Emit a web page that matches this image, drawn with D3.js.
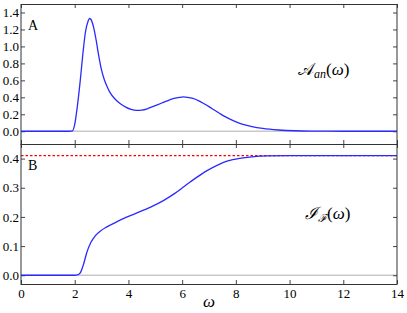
<!DOCTYPE html>
<html>
<head>
<meta charset="utf-8">
<script src="https://cdn.jsdelivr.net/npm/d3@7"></script>
<style>
  body { margin: 0; background: #fff; }
  svg { display: block; }
</style>
</head>
<body>
<svg class="chart" width="407" height="313"></svg>
<script>
// omega grid + spectral function A_an(omega)
const omegaA = [0, 1.8, 1.92, 2.0, 2.1, 2.2, 2.3, 2.4, 2.5, 2.55, 2.6, 2.7, 2.8, 2.9, 3.0, 3.1, 3.2, 3.3, 3.5, 3.7, 3.9, 4.1, 4.3, 4.5, 4.7, 4.9, 5.1, 5.3, 5.5, 5.7, 5.9, 6.05, 6.2, 6.4, 6.6, 6.8, 7.0, 7.2, 7.4, 7.6, 7.9, 8.2, 8.6, 9.0, 9.6, 10.2, 11, 12, 14];
const valA   = [0, 0, 0.005, 0.08, 0.3, 0.58, 0.9, 1.17, 1.3, 1.33, 1.32, 1.23, 1.07, 0.88, 0.72, 0.61, 0.53, 0.465, 0.38, 0.325, 0.285, 0.258, 0.247, 0.25, 0.265, 0.29, 0.315, 0.34, 0.365, 0.387, 0.4, 0.405, 0.4, 0.387, 0.362, 0.328, 0.29, 0.25, 0.21, 0.172, 0.125, 0.088, 0.055, 0.033, 0.015, 0.006, 0.002, 0, 0];

// integrated quantity I_F(omega)
const omegaI = [0, 2.0, 2.1, 2.2, 2.32, 2.45, 2.6, 2.78, 2.96, 3.2, 3.56, 3.93, 4.43, 4.9, 5.3, 5.7, 6.1, 6.5, 6.91, 7.3, 7.7, 8.15, 8.6, 9.2, 10, 11, 14];
const valI   = [0, 0, 0.001, 0.007, 0.035, 0.078, 0.112, 0.137, 0.152, 0.166, 0.183, 0.199, 0.218, 0.237, 0.256, 0.279, 0.306, 0.333, 0.358, 0.377, 0.392, 0.401, 0.406, 0.409, 0.41, 0.41, 0.41];
const limitI = 0.41;

const xTicks = [0, 2, 4, 6, 8, 10, 12, 14];
const yTicksA = [0, 0.2, 0.4, 0.6, 0.8, 1.0, 1.2, 1.4];
const yTicksI = [0, 0.1, 0.2, 0.3, 0.4];

const svg = d3.select('.chart');
const LEFT = 21, RIGHT = 397;
const TOP_A = 4, BOT_A = 144, TOP_I = 144, BOT_I = 284;
const FONT = 'Liberation Serif';

let x = d3.scaleLinear().domain([0, 14]).range([LEFT, RIGHT]);
let yA = d3.scaleLinear().domain([-0.15, 1.5]).range([BOT_A, TOP_A]);
let yI = d3.scaleLinear().domain([-0.03, 0.45]).range([BOT_I, TOP_I]);

function styleAxis(g) {
    g.select('.domain').remove();
    g.attr('font-family', FONT).attr('font-size', 13);
    g.selectAll('.tick line').attr('stroke', '#444');
    g.selectAll('.tick text').attr('fill', '#000').attr('font-family', FONT);
}

function panel(y, top, bot, yTicks, showX) {
    // zero line
    svg.append('line')
        .attr('x1', LEFT).attr('x2', RIGHT)
        .attr('y1', y(0)).attr('y2', y(0))
        .attr('stroke', '#c8c8c8').attr('stroke-width', 1.5);

    svg.append('g')
        .attr('transform', `translate(${LEFT},0)`)
        .call(d3.axisLeft(y).tickValues(yTicks).tickSize(-4).tickPadding(2).tickFormat(d3.format('.1f')))
        .call(styleAxis);
    svg.append('g')
        .attr('transform', `translate(${RIGHT},0)`)
        .call(d3.axisRight(y).tickValues(yTicks).tickSize(-4).tickFormat(''))
        .call(styleAxis);
    svg.append('g')
        .attr('transform', `translate(0,${top})`)
        .call(d3.axisTop(x).tickValues(xTicks).tickSize(-4).tickFormat(''))
        .call(styleAxis);
    let bottom = svg.append('g')
        .attr('transform', `translate(0,${bot})`)
        .call(d3.axisBottom(x).tickValues(xTicks).tickSize(-4).tickPadding(4)
            .tickFormat(showX ? d3.format('d') : ''))
        .call(styleAxis);
    bottom.selectAll('text').attr('dy', '0.8em');
}

panel(yA, TOP_A, BOT_A, yTicksA, false);
panel(yI, TOP_I, BOT_I, yTicksI, true);

// limit line
svg.append('line')
    .attr('x1', LEFT).attr('x2', RIGHT)
    .attr('y1', yI(limitI)).attr('y2', yI(limitI))
    .attr('stroke', '#ff0000').attr('stroke-width', 1.2)
    .attr('stroke-dasharray', '2.5,2');

let lineA = d3.line().x((d, i) => x(omegaA[i])).y(d => yA(d)).curve(d3.curveMonotoneX);
let lineI = d3.line().x((d, i) => x(omegaI[i])).y(d => yI(d)).curve(d3.curveMonotoneX);

svg.append('path').attr('d', lineA(valA))
    .attr('fill', 'none').attr('stroke', '#2a2aff').attr('stroke-width', 1.3);
svg.append('path').attr('d', lineI(valI))
    .attr('fill', 'none').attr('stroke', '#2a2aff').attr('stroke-width', 1.3);

// frames
svg.append('rect').attr('x', LEFT).attr('y', TOP_A + 0.5)
    .attr('width', RIGHT - LEFT).attr('height', BOT_A - TOP_A)
    .attr('fill', 'none').attr('stroke', '#333');
svg.append('rect').attr('x', LEFT).attr('y', TOP_I + 0.5)
    .attr('width', RIGHT - LEFT).attr('height', BOT_I - TOP_I)
    .attr('fill', 'none').attr('stroke', '#333');

// panel letters
svg.append('text').attr('x', 28).attr('y', 30).text('A')
    .attr('font-family', FONT).attr('font-size', 14);
svg.append('text').attr('x', 28).attr('y', 170).text('B')
    .attr('font-family', FONT).attr('font-size', 14);

// math annotations
let tA = svg.append('text').attr('x', 298).attr('y', 75)
    .attr('font-family', FONT).attr('font-size', 17);
tA.append('tspan').text('𝒜');
tA.append('tspan').text('an').attr('font-style', 'italic').attr('font-size', 12).attr('dy', 3);
tA.append('tspan').text('(').attr('dy', -3);
tA.append('tspan').text('ω').attr('font-style', 'italic');
tA.append('tspan').text(')');

let tI = svg.append('text').attr('x', 305).attr('y', 219)
    .attr('font-family', FONT).attr('font-size', 17);
tI.append('tspan').text('ℐ').attr('font-style', 'italic');
tI.append('tspan').text('ℱ').attr('font-style', 'italic').attr('font-size', 11).attr('dy', 3);
tI.append('tspan').text('(').attr('dy', -3);
tI.append('tspan').text('ω').attr('font-style', 'italic');
tI.append('tspan').text(')');

svg.append('text').attr('x', (LEFT + RIGHT) / 2).attr('y', 307)
    .attr('text-anchor', 'middle').attr('font-family', FONT)
    .attr('font-size', 17).attr('font-style', 'italic').text('ω');
</script>
</body>
</html>
